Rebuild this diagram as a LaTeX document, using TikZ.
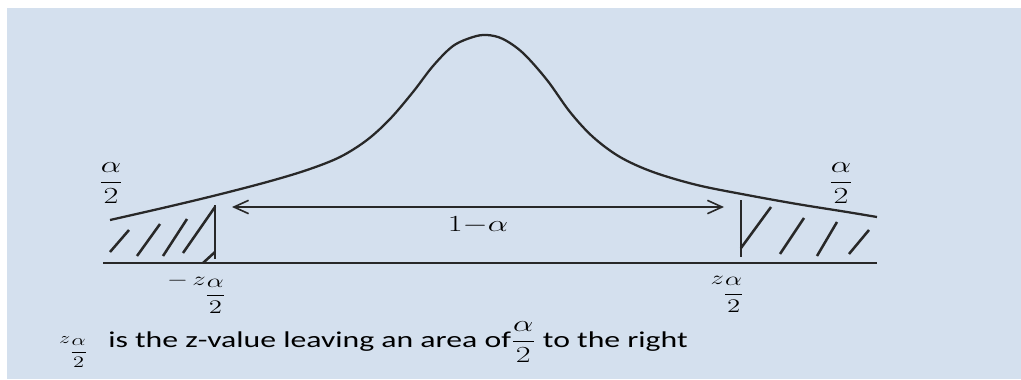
\documentclass[tikz,border=0pt]{standalone}
\usepackage{amsmath}
\usepackage{fontspec}
\newfontfamily\notefont{Carlito}
\usetikzlibrary{arrows.meta}

\definecolor{panel}{RGB}{212,224,238}
\definecolor{ink}{RGB}{40,40,40}
% the picture is drawn wider than tall, so the text is too
\newcommand{\wide}[1]{\scalebox{1.4}[1]{#1}}

\begin{document}
\begin{tikzpicture}[x=0.75pt, y=-0.75pt,
    curve/.style={ink, line width=1.7pt},
    hatch/.style={ink, line width=1.9pt},
    mathlbl/.style={inner sep=0pt, font=\fontsize{#1}{#1}\selectfont},
    >={Straight Barb[length=11pt, width=10pt]}]
  % page and panel
  \useasboundingbox (0,0) rectangle (1021,379);
  \fill[panel] (7,8) rectangle (1021,379);
  % heavy-tailed bell curve
  \draw[curve] plot[smooth, tension=0.55] coordinates {
    (110,220) (167,207) (217,195) (267,182) (307,170) (340,157)
    (367,140) (390,119) (413,92) (433,66) (453,46) (473,37) (487,35)
    (503,39) (523,53) (547,80) (570,112) (593,137) (620,157)
    (653,172) (697,185) (747,195) (797,204) (847,212) (877,217)};
  % horizontal axis
  \coordinate (axL) at (103,263);
  \coordinate (axR) at (877,263);
  \draw[ink, line width=2.1pt] (axL) -- (axR);
  % left tail: cut-off line and hatching
  \coordinate (cutL) at (215,205);
  \coordinate (cutLb) at (215,259);
  \draw[hatch] (cutL) -- (cutLb);
  \foreach \a/\b/\c/\d in {110/252/129/230, 137/256/160/224,
                           163/256/187/219, 183/253/215/207, 203/263/215/252}
    \draw[hatch] (\a,\b) -- (\c,\d);
  % right tail: cut-off line and hatching
  \coordinate (cutR) at (741,200);
  \coordinate (cutRb) at (741,257);
  \draw[hatch] (cutR) -- (cutRb);
  \foreach \a/\b/\c/\d in {741/248/771/207, 780/254/804/218,
                           817/256/837/222, 849/254/869/230}
    \draw[hatch] (\a,\b) -- (\c,\d);
  % middle area 1 - alpha
  \coordinate (la) at (232,207);
  \coordinate (ra) at (724,207);
  \draw[<->, ink, line width=1.2pt] (la) -- (ra);
  \node[mathlbl=16] (mid) at (478,225) {\wide{$1{-}\alpha$}};
  % tail areas
  \node[mathlbl=17] (tailL) at (111,183) {\wide{$\dfrac{\alpha}{2}$}};
  \node[mathlbl=17] (tailR) at (841,183) {\wide{$\dfrac{\alpha}{2}$}};
  % critical values
  \node[mathlbl=14] (zL) at (197,294) {\wide{$-\,z_{\dfrac{\alpha}{2}}$}};
  \node[mathlbl=14] (zR) at (728,294) {\wide{$z_{\dfrac{\alpha}{2}}$}};
  % note under the picture
  \node[mathlbl=13] (noteZ) at (74,352) {\wide{$z_{\dfrac{\alpha}{2}}$}};
  \node[anchor=base west, inner sep=0pt, font=\fontsize{17}{19}\selectfont] (note) at (108,347)
    {\wide{\notefont is the z-value leaving an area of$\dfrac{\alpha}{2}$\ to the right}};
\end{tikzpicture}
\end{document}
